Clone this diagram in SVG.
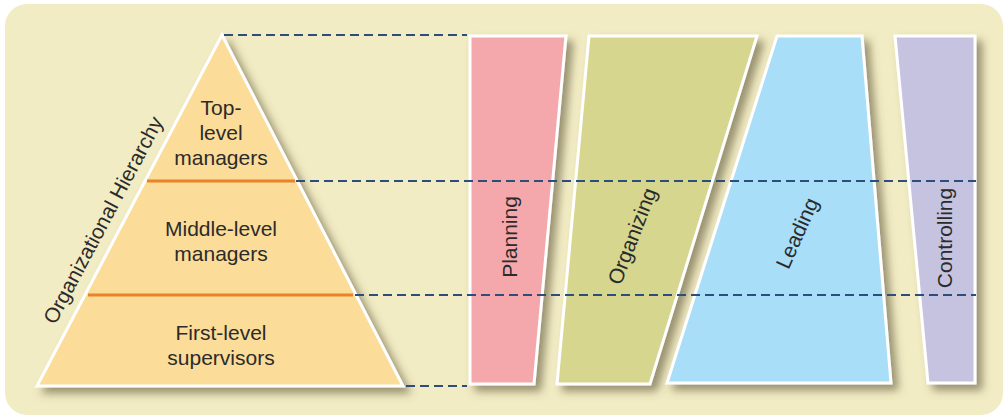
<svg xmlns="http://www.w3.org/2000/svg" width="1006" height="419" viewBox="0 0 1006 419">
<defs>
<filter id="sh" x="-20%" y="-20%" width="140%" height="140%">
<feDropShadow dx="6" dy="6" stdDeviation="4" flood-color="#5e5638" flood-opacity="0.6"/>
</filter>
<style>
.lbl{font-family:"Liberation Sans",Arial,sans-serif;font-size:21px;fill:#2b2b2b;text-anchor:middle}
.shape{stroke:#ffffff;stroke-width:3;stroke-linejoin:miter;filter:url(#sh)}
.dash{stroke:#2d4d7d;stroke-width:2;stroke-dasharray:9 5;fill:none}
.lvl{stroke:#e8832a;stroke-width:3}
</style>
</defs>
<rect x="0" y="0" width="1006" height="419" fill="#ffffff"/>
<rect x="5" y="4" width="998" height="411" rx="22" fill="#f2ecc4"/>
<g id="hierarchy">
<polygon class="shape" points="222,35 37,386 403,386" fill="#fbdc98"/>
<line class="lvl" x1="147" y1="181" x2="295" y2="181"/>
<line class="lvl" x1="88" y1="295" x2="353" y2="295"/>
<text class="lbl" x="221" y="115">Top-</text>
<text class="lbl" x="221" y="140">level</text>
<text class="lbl" x="221" y="165">managers</text>
<text class="lbl" x="221" y="236">Middle-level</text>
<text class="lbl" x="221" y="261">managers</text>
<text class="lbl" x="221" y="340">First-level</text>
<text class="lbl" x="221" y="365">supervisors</text>
<text class="lbl" transform="translate(103,220) rotate(-62)" dy="0.35em">Organizational Hierarchy</text>
</g>
<g id="planning">
<polygon class="shape" points="470,36 566,36 534,384 470,384" fill="#f4a8ab"/>
<text class="lbl" transform="translate(510,237) rotate(-90)" dy="0.35em">Planning</text>
</g>
<g id="organizing">
<polygon class="shape" points="589,36 757,36 650,384 557,384" fill="#d6d68e"/>
<text class="lbl" transform="translate(632,236) rotate(-69)" dy="0.35em">Organizing</text>
</g>
<g id="leading">
<polygon class="shape" points="777,36 862,36 891,383 667,383" fill="#a9def9"/>
<text class="lbl" transform="translate(797,233) rotate(-66)" dy="0.35em">Leading</text>
</g>
<g id="controlling">
<polygon class="shape" points="895,36 975,36 975,383 928,383" fill="#c6c3e0"/>
<text class="lbl" transform="translate(945,238) rotate(-90)" dy="0.35em">Controlling</text>
</g>
<g id="connectors">
<line class="dash" x1="224" y1="35" x2="467" y2="35"/>
<line class="dash" x1="296" y1="181" x2="976" y2="181"/>
<line class="dash" x1="355" y1="295" x2="976" y2="295"/>
<line class="dash" x1="406" y1="386" x2="467" y2="386"/>
</g>
</svg>
